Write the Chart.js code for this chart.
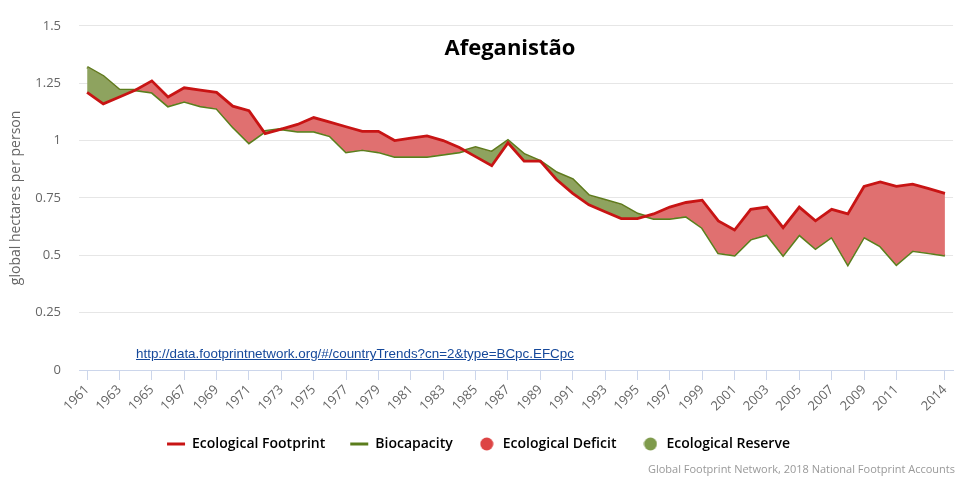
<!DOCTYPE html>
<html>
<head>
<meta charset="utf-8">
<script src="https://cdn.jsdelivr.net/npm/chart.js@4/dist/chart.umd.min.js"></script>
<style>
  body { margin: 0; background: #fff; }
  #wrap { position: relative; width: 958px; height: 482px; }
  #title { position: absolute; left: 380px; top: 31px; width: 260px; text-align: center;
    font: bold 22px 'Open Sans', sans-serif; line-height: 30px; color: #000; }
  #link { position: absolute; left: 136px; top: 346px; font: 13.4px 'Liberation Sans', Arial, sans-serif;
    line-height: 16px; color: #15489a; text-decoration: underline; }
  #credits { position: absolute; right: 3px; top: 462px; font: 11px 'Open Sans', sans-serif;
    line-height: 14px; color: #999; }
</style>
</head>
<body>
<div id="wrap">
  <canvas id="chart" width="958" height="482"></canvas>
  <div id="title">Afeganistão</div>
  <a id="link" href="http://data.footprintnetwork.org/#/countryTrends?cn=2&type=BCpc.EFCpc">http://data.footprintnetwork.org/#/countryTrends?cn=2&amp;type=BCpc.EFCpc</a>
  <div id="credits">Global Footprint Network, 2018 National Footprint Accounts</div>
</div>
<script>
// Afghanistan: ecological footprint vs biocapacity (gha per person)
const years = [
  1961, 1962, 1963, 1964, 1965, 1966, 1967, 1968, 1969, 1970,
  1971, 1972, 1973, 1974, 1975, 1976, 1977, 1978, 1979, 1980,
  1981, 1982, 1983, 1984, 1985, 1986, 1987, 1988, 1989, 1990,
  1991, 1992, 1993, 1994, 1995, 1996, 1997, 1998, 1999, 2000,
  2001, 2002, 2003, 2004, 2005, 2006, 2007, 2008, 2009, 2010,
  2011, 2012, 2013, 2014
];
const footprint = [
  1.21, 1.16, 1.19, 1.22, 1.26, 1.19, 1.23, 1.22, 1.21, 1.15,
  1.13, 1.03, 1.05, 1.07, 1.10, 1.08, 1.06, 1.04, 1.04, 1.00,
  1.01, 1.02, 1.00, 0.97, 0.93, 0.89, 0.99, 0.91, 0.91, 0.83,
  0.77, 0.72, 0.69, 0.66, 0.66, 0.68, 0.71, 0.73, 0.74, 0.65,
  0.61, 0.70, 0.71, 0.62, 0.71, 0.65, 0.70, 0.68, 0.80, 0.82,
  0.80, 0.81, 0.79, 0.77
];
const biocapacity = [
  1.32, 1.28, 1.22, 1.22, 1.21, 1.15, 1.17, 1.15, 1.14, 1.06,
  0.99, 1.04, 1.05, 1.04, 1.04, 1.02, 0.95, 0.96, 0.95, 0.93,
  0.93, 0.93, 0.94, 0.95, 0.97, 0.95, 1.00, 0.94, 0.91, 0.86,
  0.83, 0.76, 0.74, 0.72, 0.68, 0.66, 0.66, 0.67, 0.62, 0.51,
  0.50, 0.57, 0.59, 0.50, 0.59, 0.53, 0.58, 0.46, 0.58, 0.54,
  0.46, 0.52, 0.51, 0.50
];
const xTickLabels = [
  '1961', '1963', '1965', '1967', '1969', '1971', '1973', '1975', '1977',
  '1979', '1981', '1983', '1985', '1987', '1989', '1991', '1993', '1995',
  '1997', '1999', '2001', '2003', '2005', '2007', '2009', '2011', '2014'
];
const yTicks = [0, 0.25, 0.5, 0.75, 1, 1.25, 1.5];
const legendNames = ['Ecological Footprint', 'Biocapacity', 'Ecological Deficit', 'Ecological Reserve'];

const RED = '#c81414';
const GREEN = '#5b7d1c';
const DEFICIT = '#e07070';
const RESERVE = '#8ea35f';

Chart.defaults.font.family = "'Open Sans', sans-serif";
Chart.defaults.color = '#666';

// small round markers for the area entries in the legend
function dot(color) {
  const c = document.createElement('canvas');
  c.width = 14; c.height = 14;
  const g = c.getContext('2d');
  g.fillStyle = color;
  g.beginPath();
  g.arc(7, 7, 6.5, 0, Math.PI * 2);
  g.fill();
  return c;
}

// force legend height so the big horizontal gap doesn't blow up the row
const legendHeight = {
  id: 'legendHeight',
  beforeInit(chart) {
    const fit = chart.legend.fit;
    chart.legend.fit = function () {
      fit.call(this);
      this.height = 54;
    };
  }
};

new Chart(document.getElementById('chart'), {
  type: 'line',
  data: {
    labels: years.map(String),
    datasets: [
      {
        label: legendNames[0],
        data: footprint,
        borderColor: RED,
        borderWidth: 2.8,
        pointRadius: 0,
        tension: 0,
        fill: { target: 1, above: DEFICIT, below: RESERVE }
      },
      {
        label: legendNames[1],
        data: biocapacity,
        borderColor: GREEN,
        borderWidth: 2.8,
        pointRadius: 0,
        tension: 0,
        fill: false
      }
    ]
  },
  options: {
    responsive: false,
    animation: false,
    layout: { padding: { left: 0, right: 1, top: 0, bottom: 16 } },
    plugins: {
      tooltip: { enabled: false },
      legend: {
        position: 'bottom',
        onClick: null,
        labels: {
          usePointStyle: true,
          pointStyleWidth: 18,
          boxHeight: 14,
          padding: 25,
          color: '#333',
          font: { size: 14, weight: '600' },
          generateLabels: () => [
            { text: legendNames[0], pointStyle: 'line', strokeStyle: RED, fillStyle: RED, lineWidth: 3 },
            { text: legendNames[1], pointStyle: 'line', strokeStyle: GREEN, fillStyle: GREEN, lineWidth: 3 },
            { text: legendNames[2], pointStyle: dot('#dd4444'), lineWidth: 0 },
            { text: legendNames[3], pointStyle: dot('#7f9b4c'), lineWidth: 0 }
          ]
        }
      }
    },
    scales: {
      x: {
        offset: true,
        grid: { drawOnChartArea: false, color: '#ccd6eb', tickLength: 10 },
        border: { color: '#ccd6eb' },
        afterFit(scale) { scale.height = 42; },
        ticks: {
          autoSkip: false,
          minRotation: 45,
          maxRotation: 45,
          padding: 2,
          font: { size: 13 },
          callback(value) {
            const lbl = this.getLabelForValue(value);
            return xTickLabels.includes(lbl) ? lbl : null;
          }
        }
      },
      y: {
        min: 0,
        max: 1.5,
        afterFit(scale) { scale.width = 79; },
        afterBuildTicks(scale) { scale.ticks = yTicks.map(v => ({ value: v })); },
        grid: { color: '#e6e6e6', drawTicks: false },
        border: { display: false },
        ticks: { padding: 18, font: { size: 13 }, callback: v => String(v) },
        title: {
          display: true,
          text: 'global hectares per person',
          font: { size: 14 },
          color: '#666',
          padding: { top: 8, bottom: 0 }
        }
      }
    }
  },
  plugins: [legendHeight]
});
</script>
</body>
</html>
